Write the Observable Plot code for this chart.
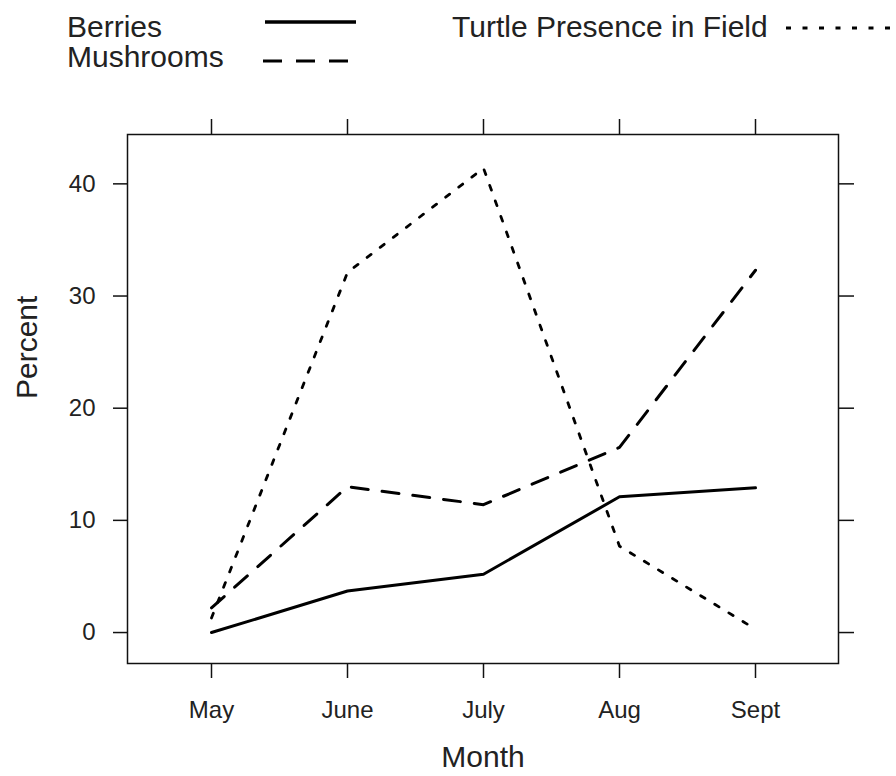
<!DOCTYPE html>
<html>
<head>
<meta charset="utf-8">
<script src="https://cdn.jsdelivr.net/npm/d3@7"></script>
<script src="https://cdn.jsdelivr.net/npm/@observablehq/plot@0.6"></script>
<style>
  html, body { margin: 0; padding: 0; background: #fff; }
  #wrap { position: relative; width: 896px; height: 776px; font-family: "Liberation Sans", Arial, sans-serif; }
  #legend { position: absolute; left: 0; top: 0; }
  #chart { position: absolute; left: 0; top: 100px; }
</style>
</head>
<body>
<div id="wrap">
  <svg id="legend" width="896" height="100"></svg>
  <div id="chart"></div>
</div>
<script>
const months = ["May", "June", "July", "Aug", "Sept"];
const seriesNames = ["Berries", "Mushrooms", "Turtle Presence in Field"];
const berries = [0.0, 3.7, 5.2, 12.1, 12.9];
const mushrooms = [2.2, 13.0, 11.4, 16.5, 32.3];
const turtle = [1.3, 32.1, 41.4, 7.7, 0.3];
const yTicks = [0, 10, 20, 30, 40];

const seriesValues = [berries, mushrooms, turtle];
const dashes = [null, "17,14", "5,11.5"];
const widths = [3, 3, 2.8];

const rows = [];
seriesNames.forEach((s, k) => months.forEach((m, i) => rows.push({series: s, month: m, value: seriesValues[k][i]})));

// Legend (above the plot)
const ns = "http://www.w3.org/2000/svg";
const leg = document.getElementById("legend");
function addText(txt, x, y) {
  const t = document.createElementNS(ns, "text");
  t.setAttribute("x", x); t.setAttribute("y", y);
  t.setAttribute("font-size", 30);
  t.setAttribute("font-family", "'Liberation Sans', Arial, sans-serif");
  t.setAttribute("fill", "#222");
  t.textContent = txt;
  leg.appendChild(t);
}
function addLine(x1, x2, y, k) {
  const l = document.createElementNS(ns, "line");
  l.setAttribute("x1", x1); l.setAttribute("x2", x2);
  l.setAttribute("y1", y); l.setAttribute("y2", y);
  l.setAttribute("stroke", "#000");
  l.setAttribute("stroke-width", k === 0 ? 3.5 : 3.2);
  if (dashes[k]) l.setAttribute("stroke-dasharray", k === 1 ? "19,14" : "5,11.5");
  leg.appendChild(l);
}
addText(seriesNames[0], 67, 37);
addLine(265, 356, 22, 0);
addText(seriesNames[1], 67, 67);
addLine(263, 349, 61, 1);
addText(seriesNames[2], 452, 37);
addLine(786, 896, 28, 2);

const chart = Plot.plot({
  width: 896,
  height: 676,
  marginTop: 34,
  marginBottom: 113,
  marginLeft: 127,
  marginRight: 58,
  style: {fontFamily: "'Liberation Sans', Arial, sans-serif", color: "#222", background: "#fff"},
  x: {type: "point", domain: months, padding: 0.6, axis: null},
  y: {domain: [-2.76, 44.4], axis: null},
  marks: [
    Plot.axisX({anchor: "bottom", tickSize: 15, tickPadding: 22, fontSize: 24, strokeWidth: 1.5, stroke: "#111", label: null}),
    Plot.axisX({anchor: "top", tickSize: 16, strokeWidth: 1.5, stroke: "#111", tickFormat: () => "", label: null}),
    Plot.axisY({anchor: "left", ticks: yTicks, tickSize: 14, tickPadding: 18, fontSize: 24, strokeWidth: 1.5, stroke: "#111", label: null}),
    Plot.axisY({anchor: "right", ticks: yTicks, tickSize: 15, strokeWidth: 1.5, stroke: "#111", tickFormat: () => "", label: null}),
    Plot.frame({stroke: "#111", strokeWidth: 1.5}),
    ...seriesNames.map((s, k) => Plot.line(rows.filter(r => r.series === s), {
      x: "month", y: "value", stroke: "#000", strokeWidth: widths[k],
      strokeDasharray: dashes[k] ?? undefined
    })),
    Plot.text(["Month"], {frameAnchor: "bottom", lineAnchor: "middle", dy: 94, fontSize: 30, fill: "#222"}),
    Plot.text(["Percent"], {frameAnchor: "left", lineAnchor: "middle", rotate: -90, dx: -100, fontSize: 30, fill: "#222"})
  ]
});
document.getElementById("chart").appendChild(chart);
</script>
</body>
</html>
